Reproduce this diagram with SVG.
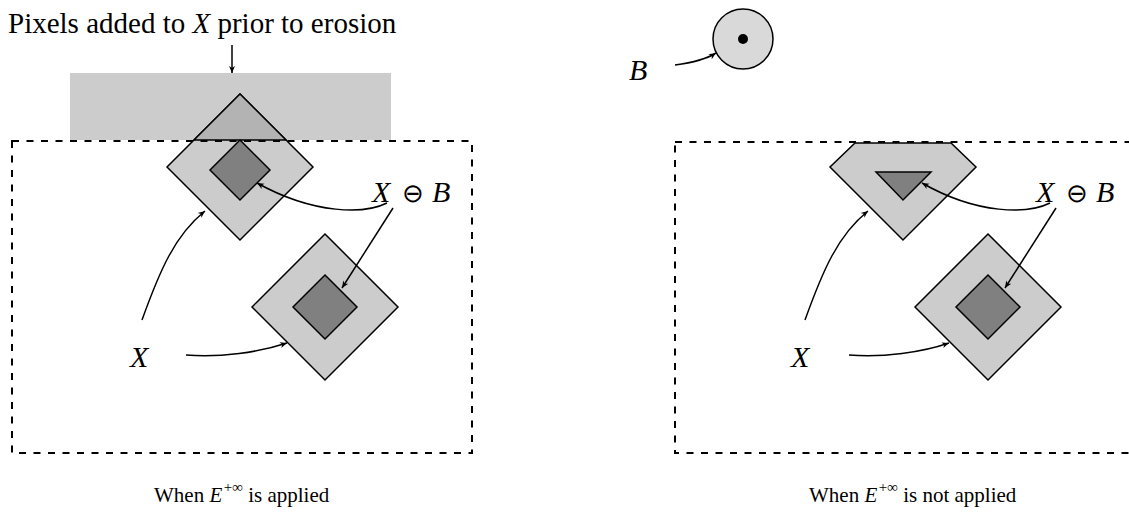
<svg xmlns="http://www.w3.org/2000/svg" width="1129" height="514" viewBox="0 0 1129 514">
<style>
.t{font-family:"Liberation Serif",serif;fill:#000}
.m{font-family:"Liberation Serif",serif;font-style:italic;fill:#000}
.op{font-family:"DejaVu Sans",sans-serif;font-weight:200;fill:#000}
.cap{font-size:21px}
.sup{font-size:15px}
.outer{fill:#cccccc;stroke:#000;stroke-width:1.5;stroke-linejoin:miter}
.inner{fill:#808080;stroke:#000;stroke-width:1.5}
.frame{fill:none;stroke:#000;stroke-width:2;stroke-dasharray:7 7.5}
.c{fill:none;stroke:#000;stroke-width:1.5;marker-end:url(#ah)}
</style>
<defs>
<marker id="ah" markerUnits="userSpaceOnUse" markerWidth="12" markerHeight="12" refX="0" refY="0" viewBox="-8 -6 10 12" orient="auto">
<path d="M0,0 L-7,-3 L-5,0 L-7,3 Z" fill="#000"/>
</marker>
</defs>

<g id="left-panel">
<rect id="added-pixels" x="70" y="73" width="321" height="67" fill="#cccccc"/>
<g id="left-top-shape">
<polygon class="outer" points="240,94 313,167 240,240 167,167"/>
<polygon points="240,94 286,140 194,140" fill="#b3b3b3" stroke="#000" stroke-width="1.5"/>
<polygon class="inner" points="240,140 270,170 240,200 210,170"/>
</g>
<g id="left-bottom-shape">
<polygon class="outer" points="325,234 398,307 325,380 252,307"/>
<polygon class="inner" points="325,275 357,307 325,339 293,307"/>
</g>
<rect id="left-frame" class="frame" x="12" y="141" width="460" height="312"/>
<text id="title" class="t" x="8" y="33" font-size="29">Pixels added to <tspan class="m">X</tspan> prior to erosion</text>
<g id="left-xb">
<text class="m" x="372" y="202" font-size="30">X</text>
<text class="op" x="402" y="202" font-size="26">⊖</text>
<text class="m" x="432" y="202" font-size="30">B</text>
</g>
<text id="left-x" class="m" x="130" y="367" font-size="30">X</text>
<g id="left-caption">
<text class="t cap" x="154" y="502">When</text>
<text class="m cap" x="209.4" y="502">E</text>
<text class="t sup" x="223.7" y="492">+∞</text>
<text class="t cap" x="248.2" y="502">is applied</text>
</g>
</g>

<g id="right-panel">
<g id="struct-elem">
<circle cx="743" cy="39" r="30" fill="#d9d9d9" stroke="#000" stroke-width="1.5"/>
<circle cx="743" cy="39" r="5" fill="#000"/>
</g>
<text id="b-label" class="m" x="629" y="80" font-size="30">B</text>
<g id="right-top-shape">
<polygon class="outer" points="855,143 951,143 976,167 903,240 830,167"/>
<polygon class="inner" points="876,172 931,172 903,200"/>
</g>
<g id="right-bottom-shape">
<polygon class="outer" points="988,234 1061,307 988,380 915,307"/>
<polygon class="inner" points="988,275 1020,307 988,339 956,307"/>
</g>
<rect id="right-frame" class="frame" x="675" y="142" width="470" height="311"/>
<g id="right-xb">
<text class="m" x="1036" y="202" font-size="30">X</text>
<text class="op" x="1066" y="202" font-size="26">⊖</text>
<text class="m" x="1096" y="202" font-size="30">B</text>
</g>
<text id="right-x" class="m" x="791" y="367" font-size="30">X</text>
<g id="right-caption">
<text class="t cap" x="809" y="502">When</text>
<text class="m cap" x="864.4" y="502">E</text>
<text class="t sup" x="878.7" y="492">+∞</text>
<text class="t cap" x="903.2" y="502">is not applied</text>
</g>
</g>

<g id="connectors">
<path class="c" d="M232,45 L232,73"/>
<path class="c" d="M387,203 C365,214 315,215 257,183"/>
<path class="c" d="M393,208 L342,288"/>
<path class="c" d="M142,320 C160,270 175,235 205,211"/>
<path class="c" d="M186,355 C220,358 260,352 287,343"/>
<path class="c" d="M1050,203 C1028,214 978,215 922,183"/>
<path class="c" d="M1056,208 L1005,288"/>
<path class="c" d="M805,320 C823,270 838,235 868,211"/>
<path class="c" d="M849,355 C883,358 923,352 949,343"/>
<path class="c" d="M675,65 C690,63 705,60 716,53"/>
</g>
</svg>
